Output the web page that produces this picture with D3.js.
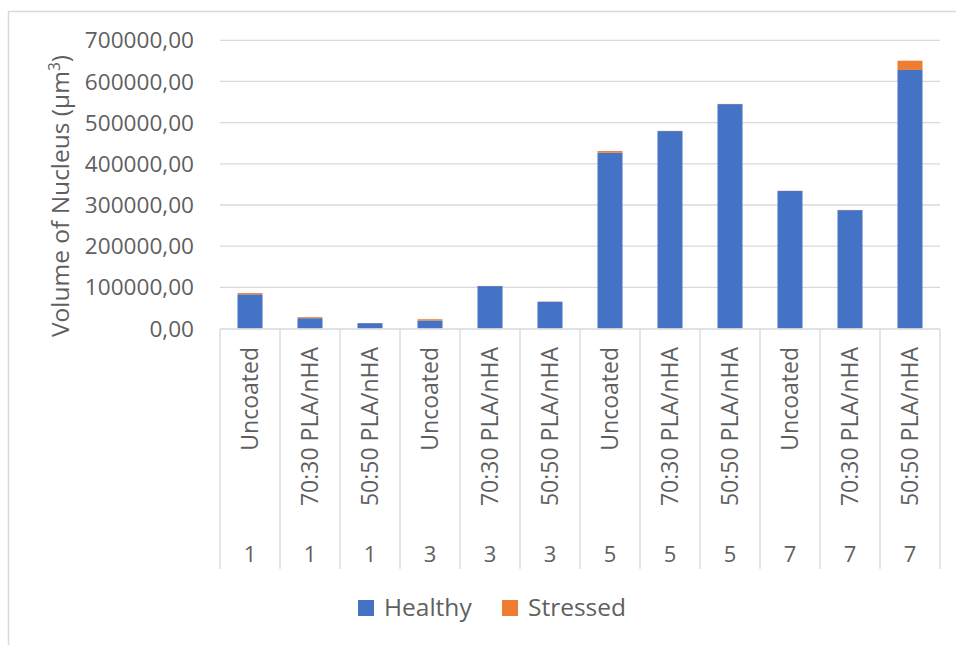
<!DOCTYPE html>
<html><head><meta charset="utf-8">
<script src="https://cdn.jsdelivr.net/npm/d3@7"></script>
<style>
html,body{margin:0;padding:0;background:#fff;}
svg{display:block;font-family:"Open Sans",sans-serif;}
</style></head>
<body><svg id="c" width="956" height="645"></svg>
<script>
const days = ["1","1","1","3","3","3","5","5","5","7","7","7"];
const coatings = ["Uncoated","70:30 PLA/nHA","50:50 PLA/nHA","Uncoated","70:30 PLA/nHA","50:50 PLA/nHA","Uncoated","70:30 PLA/nHA","50:50 PLA/nHA","Uncoated","70:30 PLA/nHA","50:50 PLA/nHA"];
const healthy = [83000, 25000, 13000, 19500, 103000, 65000, 427000, 479500, 545000, 334000, 287500, 628000];
const stressed = [3000, 2500, 400, 3000, 400, 400, 4000, 500, 500, 500, 500, 22500];
const seriesNames = ["Healthy","Stressed"];
const colors = ["#4472C4","#ED7D31"];
const yTicks = [0,100000,200000,300000,400000,500000,600000,700000];

const svg = d3.select("#c");
const textColor = "#5f5f5f", gridColor = "#D9D9D9";

// outer frame
svg.append("rect").attr("x",8.5).attr("y",11.5).attr("width",1000).attr("height",1000)
  .attr("fill","none").attr("stroke","#D9D9D9").attr("stroke-width",1.5);

const x = d3.scaleBand().domain(d3.range(days.length)).range([220,940]);
const y = d3.scaleLinear().domain([0,700000]).range([328.5,40.3]);
const barW = x.bandwidth()*25/60;

const loc = d3.formatLocale({decimal:",", thousands:".", grouping:[3], currency:["",""]});
const fmt = loc.format(".2f");

// gridlines
svg.append("g").selectAll("line").data(yTicks.filter(d=>d>0)).join("line")
  .attr("x1",220).attr("x2",940).attr("y1",d=>y(d)).attr("y2",d=>y(d))
  .attr("stroke",gridColor).attr("stroke-width",1.3);

// y tick labels
svg.append("g").selectAll("text").data(yTicks).join("text")
  .attr("x",194).attr("y",d=>y(d)).attr("dy","0.36em").attr("text-anchor","end")
  .attr("fill",textColor).attr("font-size",22.6).text(d=>fmt(d));

// stacked bars
const rows = days.map((d,i)=>({i, Healthy:healthy[i], Stressed:stressed[i]}));
const stack = d3.stack().keys(seriesNames)(rows);
svg.append("g").selectAll("g").data(stack).join("g").attr("fill",(d,k)=>colors[k])
  .selectAll("rect").data(d=>d).join("rect")
  .attr("x",d=>x(d.data.i)+x.bandwidth()/2-barW/2).attr("width",barW)
  .attr("y",d=>y(d[1])).attr("height",d=>y(d[0])-y(d[1]));

// category axis
const ax = svg.append("g");
ax.append("line").attr("x1",220).attr("x2",940).attr("y1",329).attr("y2",329)
  .attr("stroke",gridColor).attr("stroke-width",1.3);
const bounds = d3.range(days.length+1).map(i=> i<days.length ? x(i) : x(days.length-1)+x.bandwidth());
ax.selectAll("line.sep").data(bounds).join("line").attr("class","sep")
  .attr("x1",d=>d).attr("x2",d=>d).attr("y1",329).attr("y2",569)
  .attr("stroke",gridColor).attr("stroke-width",1.3);
ax.selectAll("text.cat").data(coatings).join("text").attr("class","cat")
  .attr("transform",(d,i)=>`translate(${x(i)+x.bandwidth()/2},347) rotate(-90)`)
  .attr("dy","0.36em").attr("text-anchor","end").attr("fill",textColor).attr("font-size",23)
  .text(d=>d);
ax.selectAll("text.day").data(days).join("text").attr("class","day")
  .attr("x",(d,i)=>x(i)+x.bandwidth()/2).attr("y",562).attr("text-anchor","middle")
  .attr("fill",textColor).attr("font-size",22).text(d=>d);

// y title
const t = svg.append("text").attr("transform","translate(60,196) rotate(-90)")
  .attr("text-anchor","middle").attr("dy","0.36em").attr("fill",textColor).attr("font-size",24.5);
t.append("tspan").text("Volume of Nucleus (µm");
t.append("tspan").attr("font-size",15.5).attr("dy","-9").text("3");
t.append("tspan").attr("dy","9").text(")");

// legend
const lg = svg.append("g");
const lx = [358, 502];
seriesNames.forEach((n,k)=>{
  lg.append("rect").attr("x",lx[k]).attr("y",600).attr("width",16).attr("height",16).attr("fill",colors[k]);
  lg.append("text").attr("x",lx[k]+26).attr("y",616).attr("fill",textColor).attr("font-size",24.5).text(n);
});
</script></body></html>
